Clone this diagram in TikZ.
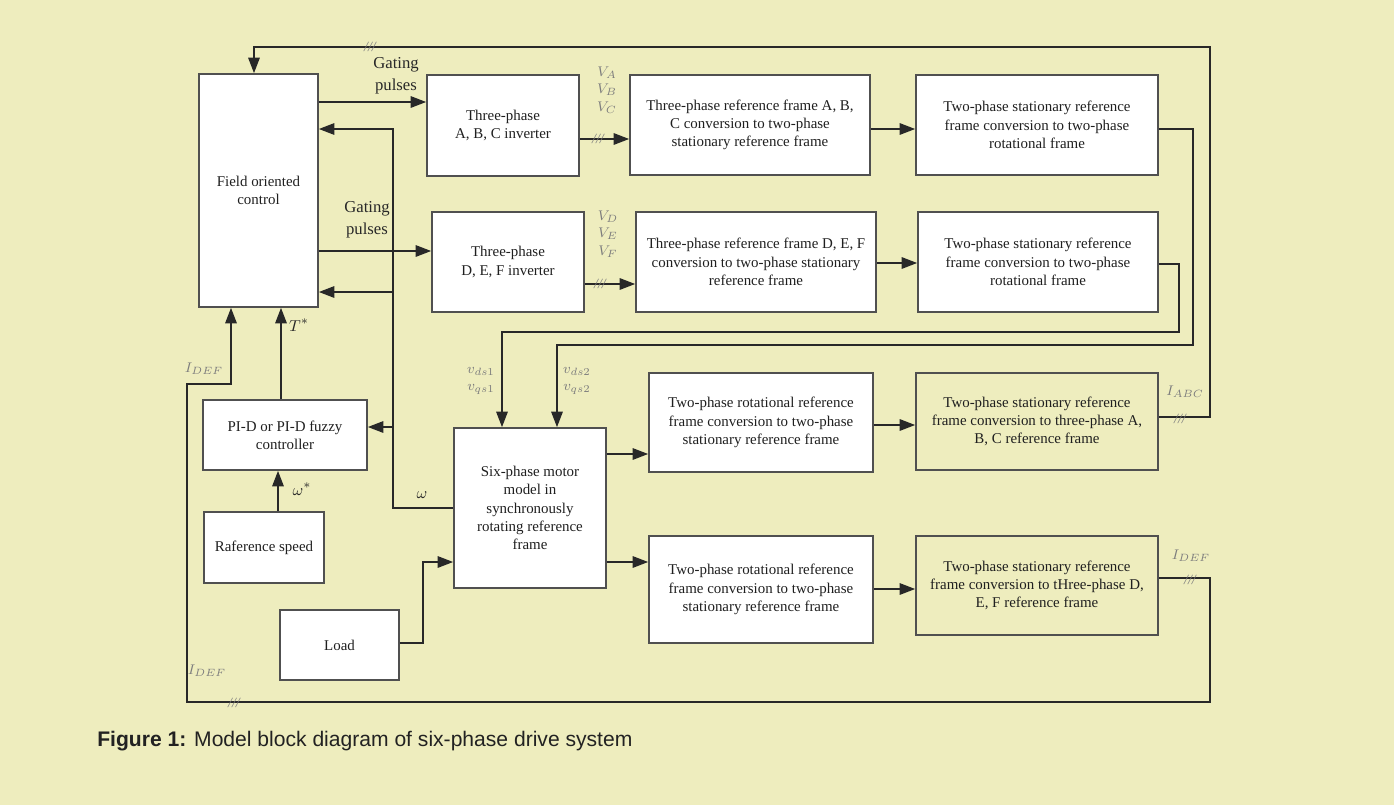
\documentclass[tikz,border=0pt]{standalone}
\usepackage{fontspec}
\setmainfont{Liberation Serif}
\setsansfont{Liberation Sans}
\usetikzlibrary{arrows.meta}
\definecolor{bgc}{RGB}{238,237,190}
\definecolor{linec}{RGB}{40,40,40}
\definecolor{boxc}{RGB}{80,80,80}
\definecolor{labc}{RGB}{125,125,125}
\definecolor{capc}{RGB}{34,34,34}
\begin{document}
\begin{tikzpicture}[x=0.02cm,y=-0.02cm,
  >={Triangle[length=0.31cm,width=0.23cm]},
  box/.style={draw=boxc,fill=white,line width=1pt,align=center,inner sep=0pt,text=black!88,
    font=\fontsize{8.5}{10.4}\selectfont},
  wire/.style={draw=linec,line width=0.9pt},
  lbl/.style={align=center,text=linec,font=\fontsize{9.5}{12.5}\selectfont},
  glbl/.style={align=center,text=labc,font=\fontsize{8}{10}\selectfont},
  slash/.style={text=labc,font=\itshape\fontsize{8}{8}\selectfont,inner sep=0pt}]
\path[use as bounding box,fill=bgc] (0,0) rectangle (1394,805);
% blocks
\node[box,minimum width=2.38cm,minimum height=4.66cm] (foc) at (258.5,190.5) {Field oriented\\control};
\node[box,minimum width=3.04cm,minimum height=2.02cm] (invabc) at (503,125.5) {Three-phase\\A, B, C inverter};
\node[box,minimum width=3.04cm,minimum height=2cm] (invdef) at (508,262) {Three-phase\\D, E, F inverter};
\node[box,minimum width=4.8cm,minimum height=2cm] (convabc) at (750,125) {Three-phase reference frame A, B,\\C conversion to two-phase\\stationary reference frame};
\node[box,minimum width=4.84cm,minimum height=2cm] (rotabc) at (1037,125) {Two-phase stationary reference\\frame conversion to two-phase\\rotational frame};
\node[box,minimum width=4.8cm,minimum height=2cm] (convdef) at (756,262) {Three-phase reference frame D, E, F\\conversion to two-phase stationary\\reference frame};
\node[box,minimum width=4.8cm,minimum height=2cm] (rotdef) at (1038,262) {Two-phase stationary reference\\frame conversion to two-phase\\rotational frame};
\node[box,minimum width=3.04cm,minimum height=3.2cm] (motor) at (530,508) {Six-phase motor\\model in\\synchronously\\rotating reference\\frame};
\node[box,minimum width=3.28cm,minimum height=1.4cm] (pid) at (285,435) {PI-D or PI-D fuzzy\\controller};
\node[box,minimum width=2.4cm,minimum height=1.42cm] (ref) at (264,547.5) {Raference speed};
\node[box,minimum width=2.38cm,minimum height=1.4cm] (load) at (339.5,645) {Load};
\node[box,minimum width=4.48cm,minimum height=1.98cm] (r2sabc) at (761,422.5) {Two-phase rotational reference\\frame conversion to two-phase\\stationary reference frame};
\node[box,fill=none,minimum width=4.84cm,minimum height=1.94cm] (s2tabc) at (1037,421.5) {Two-phase stationary reference\\frame conversion to three-phase A,\\B, C reference frame};
\node[box,minimum width=4.48cm,minimum height=2.14cm] (r2sdef) at (761,589.5) {Two-phase rotational reference\\frame conversion to two-phase\\stationary reference frame};
\node[box,fill=none,minimum width=4.84cm,minimum height=1.98cm] (s2tdef) at (1037,585.5) {Two-phase stationary reference\\frame conversion to tHree-phase D,\\E, F reference frame};
% corners of the outer loops
\coordinate (tl) at (254,47);
\coordinate (tr) at (1210,47);
\coordinate (br) at (1210,702);
\coordinate (bl) at (187,702);
% connectors
\path[wire,->] (foc.east |- 0,102) -- (invabc.west |- 0,102);
\path[wire,->] (foc.east |- 0,251) -- (invdef.west |- 0,251);
\path[wire,->] (motor.west) -- (393,508) -- (393,129) -- (foc.east |- 0,129);
\path[wire,->] (393,292) -- (foc.east |- 0,292);
\path[wire,->] (393,427) -- (pid.east |- 0,427);
\path[wire,->] (invabc.east |- 0,139) -- (convabc.west |- 0,139);
\path[wire,->] (invdef.east |- 0,284) -- (convdef.west |- 0,284);
\path[wire,->] (convabc.east |- 0,129) -- (rotabc.west |- 0,129);
\path[wire,->] (convdef.east |- 0,263) -- (rotdef.west |- 0,263);
\path[wire,->] (rotabc.east |- 0,129) -- (1193,129) -- (1193,345) -- (557,345) -- (motor.north -| 557,0);
\path[wire,->] (rotdef.east |- 0,264) -- (1179,264) -- (1179,332) -- (502,332) -- (motor.north -| 502,0);
\path[wire,->] (motor.east |- 0,454) -- (r2sabc.west |- 0,454);
\path[wire,->] (motor.east |- 0,562) -- (r2sdef.west |- 0,562);
\path[wire,->] (r2sabc.east |- 0,425) -- (s2tabc.west |- 0,425);
\path[wire,->] (r2sdef.east |- 0,589) -- (s2tdef.west |- 0,589);
\path[wire,->] (s2tabc.east |- 0,417) -- (tr |- 0,417) -- (tr) -- (tl) -- (foc.north -| tl);
\path[wire,->] (s2tdef.east |- 0,578) -- (br |- 0,578) -- (br) -- (bl) -- (187,384) -- (231,384) -- (foc.south -| 231,0);
\path[wire,->] (pid.north -| 281,0) -- (foc.south -| 281,0);
\path[wire,->] (ref.north -| 278,0) -- (pid.south -| 278,0);
\path[wire,->] (load.east |- 0,643) -- (423,643) -- (423,562) -- (motor.west |- 0,562);
% labels
\node[lbl] (gabc) at (396,76) {Gating\\pulses};
\node[lbl] (gdef) at (367,220) {Gating\\pulses};
\node[glbl] (vabc) at (607,90) {$V_A$\\$V_B$\\$V_C$};
\node[glbl] (vdef) at (608,234) {$V_D$\\$V_E$\\$V_F$};
\node[slash] (s1) at (598,139) {///};
\node[slash] (s2) at (600,284) {///};
\node[slash] (s3) at (370,47) {///};
\node[slash] (s4) at (1180,419) {///};
\node[slash] (s5) at (1190,580) {///};
\node[slash] (s6) at (234,703) {///};
\node[glbl] (vq1) at (481,381) {$v_{ds1}$\\$v_{qs1}$};
\node[glbl] (vq2) at (577,381) {$v_{ds2}$\\$v_{qs2}$};
\node[lbl] (tq) at (299,325) {$T^*$};
\node[lbl] (ws) at (302,489) {$\omega^*$};
\node[lbl] (w) at (422,495) {$\omega$};
\node[glbl] (i1) at (204,369) {$I_{DEF}$};
\node[glbl] (i2) at (207,671) {$I_{DEF}$};
\node[glbl] (i3) at (1185,392) {$I_{ABC}$};
\node[glbl] (i4) at (1191,556) {$I_{DEF}$};
\node[anchor=west,inner sep=0pt,text=capc,font=\sffamily\fontsize{12}{14}\selectfont] (cap) at (97,741) {\textbf{Figure 1:} Model block diagram of six-phase drive system};
\end{tikzpicture}
\end{document}
